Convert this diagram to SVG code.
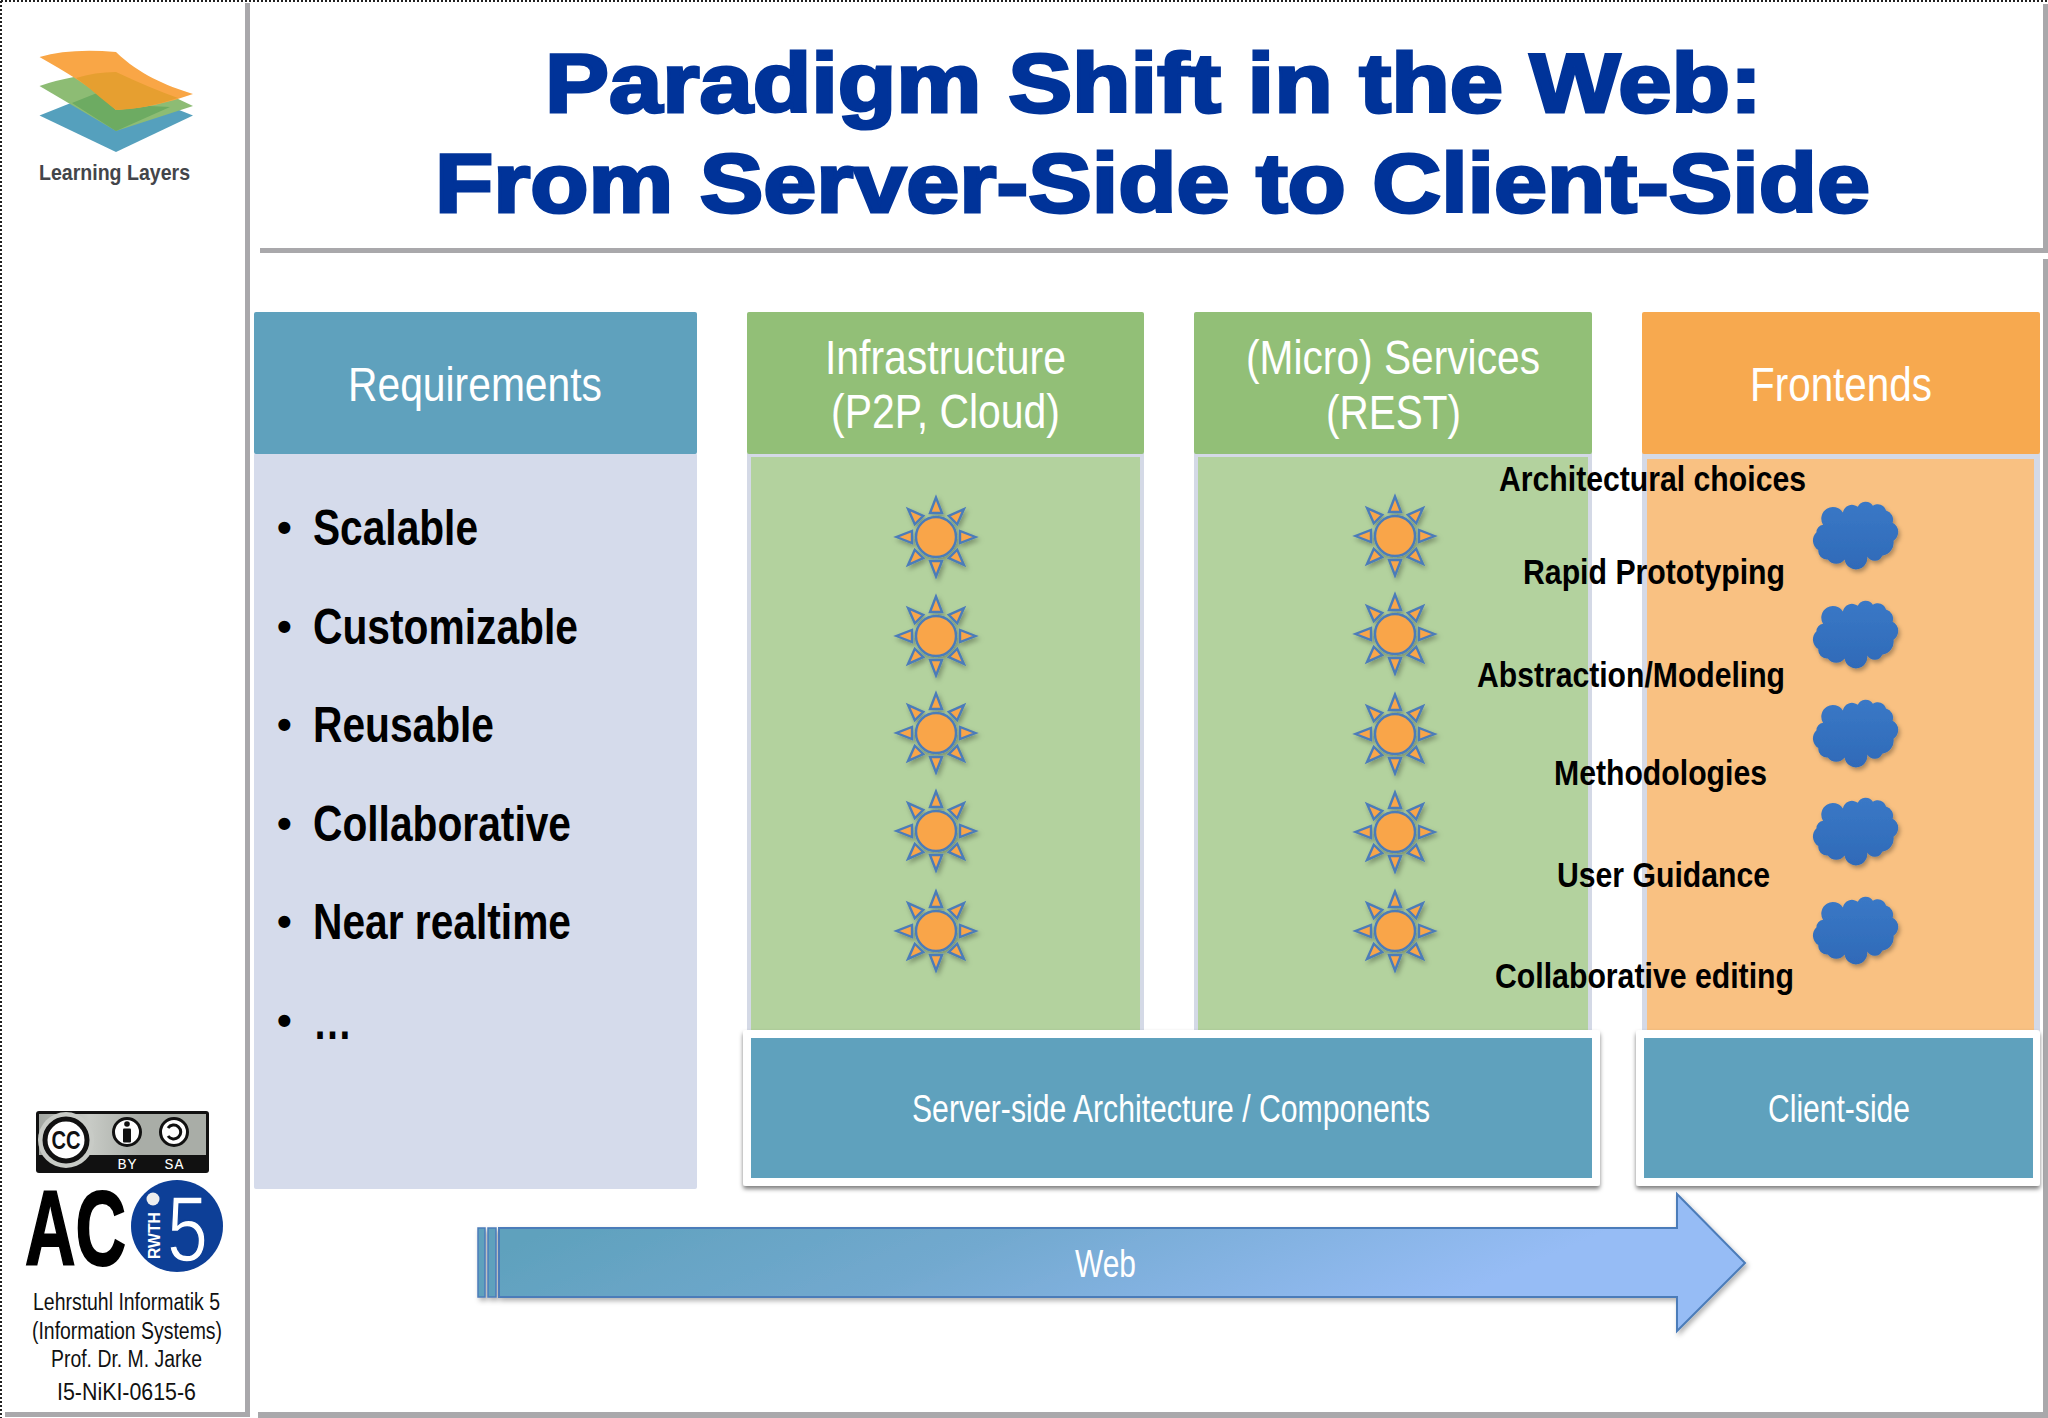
<svg xmlns="http://www.w3.org/2000/svg" xmlns:xlink="http://www.w3.org/1999/xlink" width="2048" height="1418" viewBox="0 0 2048 1418">
<style>
text{font-family:"Liberation Sans",Arial,sans-serif}
.rule{fill:#a9a8ab}
.hd{fill:#fff;font-size:48px}
.sub{fill:#fff;font-size:38px}
.ti{fill:#003399;font-size:84px;font-weight:bold;stroke:#003399;stroke-width:3px;stroke-linejoin:miter}
.bl{fill:#000;font-size:50px;font-weight:bold}
.bu{fill:#000;font-size:42px;font-weight:bold}
.ov{fill:#000;font-size:35px;font-weight:bold}
.foot{fill:#111;font-size:23px}
.blue{fill:#5fa1bd}.green{fill:#92bf77}.orange{fill:#f7a94f}
.edge{fill:#d4d9e6}
.gb{fill:#b3d29e}.ob{fill:#f9c182}
</style>
<defs>
<filter id="sh" x="-20%" y="-20%" width="140%" height="140%"><feDropShadow dx="2" dy="3" stdDeviation="2.5" flood-color="#000" flood-opacity=".3"/></filter>
<filter id="bs" x="-5%" y="-5%" width="110%" height="110%"><feDropShadow dx="0" dy="3" stdDeviation="2" flood-color="#000" flood-opacity=".5"/></filter>
<linearGradient id="ag" x1="0" y1="0" x2="1" y2="0.25"><stop offset=".1" stop-color="#5fa1bd"/><stop offset=".45" stop-color="#72a9cf"/><stop offset=".9" stop-color="#96bcf5"/></linearGradient>
<linearGradient id="cg" x1="0" y1="0" x2="1" y2="0"><stop offset="0" stop-color="#a2a6a1"/><stop offset=".3" stop-color="#c8cbc6"/><stop offset=".6" stop-color="#a9ada7"/></linearGradient>
<linearGradient id="clg" x1="0" y1="0" x2="0" y2="1"><stop offset="0" stop-color="#3a78c6"/><stop offset="1" stop-color="#2f6ab8"/></linearGradient>
<polygon id="ray" points="0,-39.500 -6,-24 6,-24" fill="#f9a54a" stroke="#4c7cb9" stroke-width="2.400"/>
<g id="sun" filter="url(#sh)">
<use href="#ray"/>
<use href="#ray" transform="rotate(45)"/>
<use href="#ray" transform="rotate(90)"/>
<use href="#ray" transform="rotate(135)"/>
<use href="#ray" transform="rotate(180)"/>
<use href="#ray" transform="rotate(225)"/>
<use href="#ray" transform="rotate(270)"/>
<use href="#ray" transform="rotate(315)"/>
<circle r="20" fill="#f9a54a" stroke="#4c7cb9" stroke-width="2.400"/>
</g>
<path id="cloud" filter="url(#sh)" fill="url(#clg)" transform="scale(.94)" d="M-34,-11 A12,12 0 0 1 -13,-24 A10,10 0 0 1 3,-30 A9,9 0 0 1 19,-31 A9,9 0 0 1 33,-26 A10,10 0 0 1 40,-13 A11,11 0 0 1 41,6 A14,14 0 0 1 29,22 A9,9 0 0 1 13,23 A10,10 0 0 1 -11,26 A11,11 0 0 1 -29,26 A9,9 0 0 1 -39,16 A12,12 0 0 1 -41,-3 A8,8 0 0 1 -34,-11Z"/>
</defs>
<rect width="2048" height="1418" fill="#fff"/>
<g id="frame">
<path d="M1,1H2048M1,1V1418" fill="none" stroke="#222" stroke-width="2" stroke-dasharray="2 2"/>
<rect class="rule" x="245" y="3" width="5" height="1412"/>
<rect class="rule" x="5" y="1412" width="245" height="5"/>
<rect class="rule" x="258" y="1412" width="1790" height="6"/>
<rect class="rule" x="260" y="248" width="1787" height="5"/>
<rect class="rule" x="2043" y="4" width="5" height="249"/>
<rect class="rule" x="2043" y="259" width="5" height="1159"/>
</g>
<g id="logo-learning-layers">
<path d="M39.500,115.500 L116,152 L193,115.500 L116,85 Z" fill="#55a0bd"/>
<path d="M39.500,86 Q70,75 116,72 Q160,90 193,106 L116,131 Z" fill="#8dbc74"/>
<path d="M72,103 L97,93 L116,110 L150,106 L170,107 L116,131Z" fill="#6dab62"/>
<path d="M39.500,57 Q70,48 116,52 C140,75 165,85 193,94 Q155,108 116,110 C90,85 65,72 39.500,57Z" fill="#f9a646"/>
<path d="M76,78 Q95,72 116,72 Q150,88 178,98 Q145,109 116,110 C100,98 90,88 76,78Z" fill="#e69f30"/>
<text x="39" y="180" font-size="22" font-weight="bold" fill="#43454a" textLength="151" lengthAdjust="spacingAndGlyphs">Learning Layers</text>
</g>
<g id="logo-cc">
<rect x="36" y="1111" width="173" height="62" rx="3" fill="#111"/>
<rect x="39" y="1114" width="167" height="41" fill="url(#cg)"/>
<circle cx="66" cy="1140" r="28" fill="#c8cbc6"/>
<circle cx="66" cy="1140" r="21" fill="#fff" stroke="#111" stroke-width="5"/>
<text x="66" y="1149" font-size="25" font-weight="bold" text-anchor="middle" fill="#111" textLength="29" lengthAdjust="spacingAndGlyphs">CC</text>
<circle cx="127" cy="1132" r="13.500" fill="#fff" stroke="#111" stroke-width="3"/>
<circle cx="127" cy="1124" r="2.800" fill="#111"/><rect x="123" y="1128.500" width="8" height="14" rx="1" fill="#111"/>
<circle cx="174" cy="1132" r="13.500" fill="#fff" stroke="#111" stroke-width="3"/>
<path d="M168,1128 A7,7 0 1 1 168,1136" fill="none" stroke="#111" stroke-width="3"/>
<text x="127" y="1169" font-size="15" fill="#fff" text-anchor="middle" textLength="19" style="font-family:'Liberation Mono',monospace">BY</text>
<text x="174" y="1169" font-size="15" fill="#fff" text-anchor="middle" textLength="19" style="font-family:'Liberation Mono',monospace">SA</text>
</g>
<g id="logo-i5">
<text x="25" y="1265" font-size="105" font-weight="bold" fill="#000" stroke="#000" stroke-width="2" textLength="101" lengthAdjust="spacingAndGlyphs">AC</text>
<circle cx="177" cy="1226" r="46" fill="#0d3f97"/>
<circle cx="153" cy="1199" r="6.500" fill="#eee"/>
<text transform="translate(160,1259) rotate(-90)" font-size="16" font-weight="bold" fill="#fff" textLength="47" lengthAdjust="spacingAndGlyphs">RWTH</text>
<text x="167" y="1261" font-size="92" fill="#fff" stroke="#0d3f97" stroke-width="1.500" textLength="41" lengthAdjust="spacingAndGlyphs">5</text>
</g>
<g id="org-text">
<text class="foot" x="33" y="1310" textLength="187" lengthAdjust="spacingAndGlyphs">Lehrstuhl Informatik 5</text>
<text class="foot" x="32" y="1339" textLength="190" lengthAdjust="spacingAndGlyphs">(Information Systems)</text>
<text class="foot" x="51" y="1367" textLength="151" lengthAdjust="spacingAndGlyphs">Prof. Dr. M. Jarke</text>
<text class="foot" x="57" y="1400" textLength="139" lengthAdjust="spacingAndGlyphs">I5-NiKI-0615-6</text>
</g>
<g id="title">
<text class="ti" x="545" y="112" textLength="1217" lengthAdjust="spacingAndGlyphs">Paradigm Shift in the Web:</text>
<text class="ti" x="435" y="212" textLength="1435" lengthAdjust="spacingAndGlyphs">From Server-Side to Client-Side</text>
</g>
<g id="requirements">
<rect x="254" y="453" width="443" height="736" rx="2" fill="#d5dbeb"/>
<rect class="blue" x="254" y="312" width="443" height="142" rx="2"/>
<text class="hd" x="348" y="401" textLength="254" lengthAdjust="spacingAndGlyphs">Requirements</text>
<text class="bu" x="277" y="542">•</text><text class="bl" x="313" y="545" textLength="165" lengthAdjust="spacingAndGlyphs">Scalable</text>
<text class="bu" x="277" y="641">•</text><text class="bl" x="313" y="644" textLength="265" lengthAdjust="spacingAndGlyphs">Customizable</text>
<text class="bu" x="277" y="739">•</text><text class="bl" x="313" y="742" textLength="181" lengthAdjust="spacingAndGlyphs">Reusable</text>
<text class="bu" x="277" y="838">•</text><text class="bl" x="313" y="841" textLength="258" lengthAdjust="spacingAndGlyphs">Collaborative</text>
<text class="bu" x="277" y="936">•</text><text class="bl" x="313" y="939" textLength="258" lengthAdjust="spacingAndGlyphs">Near realtime</text>
<text class="bu" x="277" y="1035">•</text><text class="bl" x="313" y="1039" textLength="39" lengthAdjust="spacingAndGlyphs">…</text>
</g>
<g id="infrastructure">
<rect class="edge" x="747" y="453" width="397" height="580"/>
<rect class="gb" x="751" y="457" width="389" height="573"/>
<rect class="green" x="747" y="312" width="397" height="142" rx="2"/>
<text class="hd" x="825" y="374" textLength="241" lengthAdjust="spacingAndGlyphs">Infrastructure</text>
<text class="hd" x="831" y="428" textLength="229" lengthAdjust="spacingAndGlyphs">(P2P, Cloud)</text>
<use href="#sun" x="936" y="537"/><use href="#sun" x="936" y="636"/><use href="#sun" x="936" y="733"/><use href="#sun" x="936" y="831"/><use href="#sun" x="936" y="931"/>
</g>
<g id="services">
<rect class="edge" x="1194" y="453" width="398" height="580"/>
<rect class="gb" x="1198" y="457" width="390" height="573"/>
<rect class="green" x="1194" y="312" width="398" height="142" rx="2"/>
<text class="hd" x="1246" y="374" textLength="294" lengthAdjust="spacingAndGlyphs">(Micro) Services</text>
<text class="hd" x="1326" y="429" textLength="135" lengthAdjust="spacingAndGlyphs">(REST)</text>
<use href="#sun" x="1395" y="536"/><use href="#sun" x="1395" y="634"/><use href="#sun" x="1395" y="734"/><use href="#sun" x="1395" y="832"/><use href="#sun" x="1395" y="931"/>
</g>
<g id="frontends">
<rect class="edge" x="1642" y="453" width="398" height="580"/>
<rect class="ob" x="1647" y="459" width="387" height="571"/>
<rect class="orange" x="1642" y="312" width="398" height="142" rx="2"/>
<text class="hd" x="1750" y="401" textLength="182" lengthAdjust="spacingAndGlyphs">Frontends</text>
<use href="#cloud" x="1855" y="535"/><use href="#cloud" x="1855" y="634"/><use href="#cloud" x="1855" y="733"/><use href="#cloud" x="1855" y="831"/><use href="#cloud" x="1855" y="930"/>
</g>
<g id="server-side">
<rect x="743" y="1030" width="857" height="156" rx="3" fill="#fff" filter="url(#bs)"/>
<rect class="blue" x="751" y="1038" width="841" height="140"/>
<text class="sub" x="912" y="1122" textLength="518" lengthAdjust="spacingAndGlyphs">Server-side Architecture / Components</text>
</g>
<g id="client-side">
<rect x="1636" y="1030" width="404" height="156" rx="3" fill="#fff" filter="url(#bs)"/>
<rect class="blue" x="1644" y="1038" width="389" height="140"/>
<text class="sub" x="1768" y="1122" textLength="142" lengthAdjust="spacingAndGlyphs">Client-side</text>
</g>
<g id="overlay-labels">
<text class="ov" x="1499" y="491" textLength="307" lengthAdjust="spacingAndGlyphs">Architectural choices</text>
<text class="ov" x="1523" y="584" textLength="262" lengthAdjust="spacingAndGlyphs">Rapid Prototyping</text>
<text class="ov" x="1477" y="687" textLength="308" lengthAdjust="spacingAndGlyphs">Abstraction/Modeling</text>
<text class="ov" x="1554" y="785" textLength="213" lengthAdjust="spacingAndGlyphs">Methodologies</text>
<text class="ov" x="1557" y="887" textLength="213" lengthAdjust="spacingAndGlyphs">User Guidance</text>
<text class="ov" x="1495" y="988" textLength="299" lengthAdjust="spacingAndGlyphs">Collaborative editing</text>
</g>
<g id="web-arrow">
<g filter="url(#sh)">
<path d="M499,1228H1677V1194L1745,1263L1677,1331V1297H499Z" fill="url(#ag)" stroke="#4c7cb9" stroke-width="2"/>
<rect x="478" y="1228" width="7" height="69" fill="#5fa1bd" stroke="#4c7cb9" stroke-width="1.500"/>
<rect x="488" y="1228" width="8" height="69" fill="#5fa1bd" stroke="#4c7cb9" stroke-width="1.500"/>
</g>
<text class="sub" x="1075" y="1277" textLength="61" lengthAdjust="spacingAndGlyphs">Web</text>
</g>
</svg>
